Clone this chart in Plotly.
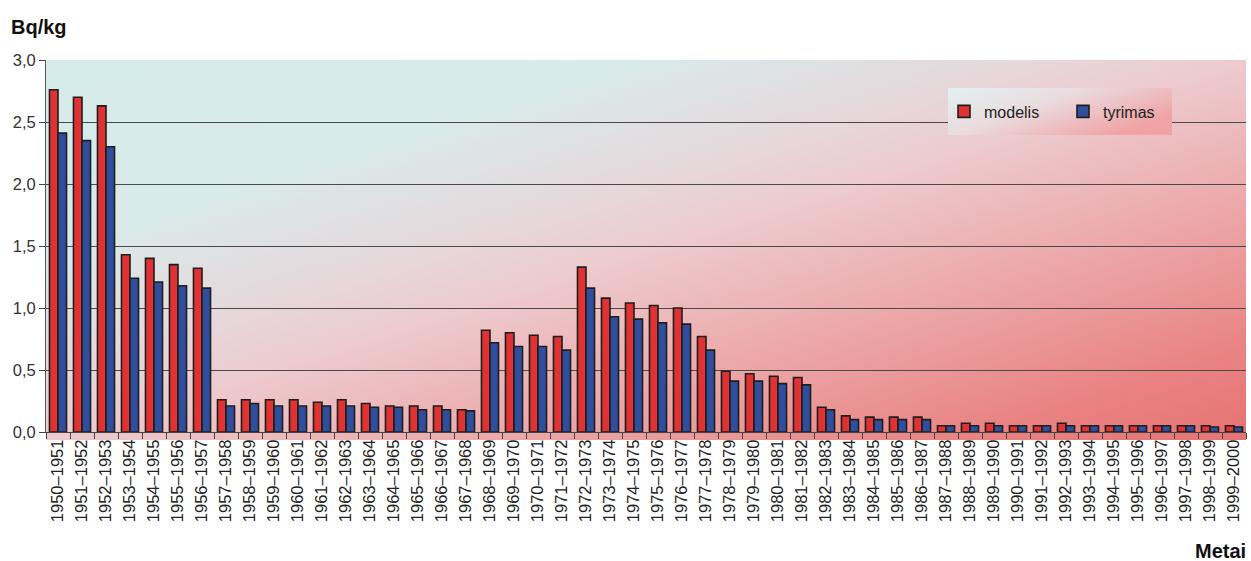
import plotly.graph_objects as go
import urllib.parse

periods = [f"{y}\u2013{y+1}" for y in range(1950, 2000)]

modelis = [2.76, 2.70, 2.63, 1.43, 1.40, 1.35, 1.32,
           0.26, 0.26, 0.26, 0.26, 0.24, 0.26, 0.23, 0.21, 0.21, 0.21, 0.18,
           0.82, 0.80, 0.78, 0.77, 1.33, 1.08, 1.04, 1.02, 1.00, 0.77,
           0.49, 0.47, 0.45, 0.44, 0.20, 0.13, 0.12, 0.12, 0.12,
           0.05, 0.07, 0.07, 0.05, 0.05, 0.07, 0.05, 0.05, 0.05, 0.05, 0.05, 0.05, 0.05]
tyrimas = [2.41, 2.35, 2.30, 1.24, 1.21, 1.18, 1.16,
           0.21, 0.23, 0.21, 0.21, 0.21, 0.21, 0.20, 0.20, 0.18, 0.18, 0.17,
           0.72, 0.69, 0.69, 0.66, 1.16, 0.93, 0.91, 0.88, 0.87, 0.66,
           0.41, 0.41, 0.39, 0.38, 0.18, 0.10, 0.10, 0.10, 0.10,
           0.05, 0.05, 0.05, 0.05, 0.05, 0.05, 0.05, 0.05, 0.05, 0.05, 0.05, 0.04, 0.04]

W, H = 1251, 561
L, R, T, B = 46, 5, 60, 129


def svg_uri(stops, x2="1", y2="1"):
    st = "".join(f'<stop offset="{o}" stop-color="{c}"/>' for o, c in stops)
    svg = ('<svg xmlns="http://www.w3.org/2000/svg" width="100" height="100" '
           'viewBox="0 0 100 100" preserveAspectRatio="none">'
           f'<defs><linearGradient id="g" x1="0" y1="0" x2="{x2}" y2="{y2}">{st}</linearGradient></defs>'
           '<rect x="0" y="0" width="100" height="100" fill="url(#g)"/></svg>')
    return "data:image/svg+xml;charset=utf-8," + urllib.parse.quote(svg)


bg_uri = svg_uri([(0, "#d5ecea"), (0.25, "#d9eaea"), (0.42, "#e7d6da"),
                  (0.5, "#edcbce"), (0.68, "#eca9ab"), (0.88, "#e98382"), (1, "#e67373")])
leg_uri = svg_uri([(0, "#e2f1f1"), (0.45, "#eadcdf"), (1, "#f0a2a4")], x2="1", y2="0.6")

fig = go.Figure()
fig.add_trace(go.Bar(x=periods, y=modelis, name="modelis",
                     marker=dict(color="#e03232", line=dict(color="#1e1e1e", width=1.6))))
fig.add_trace(go.Bar(x=periods, y=tyrimas, name="tyrimas",
                     marker=dict(color="#2f4f9e", line=dict(color="#1e1e1e", width=1.6))))

pw = W - L - R
ph = H - T - B


def px_x(p):
    return (p - L) / pw


def px_y(p):
    return (H - B - p) / ph


images = [
    dict(source=bg_uri, xref="paper", yref="paper", x=0, y=1, sizex=1, sizey=1 + 8 / ph,
         sizing="stretch", layer="below", xanchor="left", yanchor="top"),
    dict(source=leg_uri, xref="paper", yref="paper", x=px_x(948), y=px_y(88),
         sizex=224 / pw, sizey=47 / ph, sizing="stretch", layer="above",
         xanchor="left", yanchor="top", opacity=1),
]

fig.update_layout(
    width=W, height=H,
    margin=dict(l=L, r=R, t=T, b=B),
    paper_bgcolor="white",
    plot_bgcolor="rgba(0,0,0,0)",
    separators=",.",
    barmode="group",
    bargap=0.29,
    bargroupgap=0,
    font=dict(family="Liberation Sans, Arial, sans-serif", size=14, color="#222"),
    images=images,
    showlegend=True,
    legend=dict(orientation="h", x=px_x(944), y=px_y(111.5), xanchor="left", yanchor="middle",
                bgcolor="rgba(0,0,0,0)", borderwidth=0, entrywidth=74, entrywidthmode="pixels",
                font=dict(size=16, color="#222"), itemclick=False),
    xaxis=dict(type="category", tickangle=-90, ticks="outside", tickson="boundaries",
               ticklen=6, tickcolor="#444", showline=True, linecolor="#444", linewidth=1,
               showgrid=False, tickfont=dict(size=16.5, color="#222"),
               range=[-0.5, len(periods) - 0.5]),
    yaxis=dict(range=[0, 3.0], tick0=0, dtick=0.5, tickformat=".1f", ticks="outside",
               ticklen=6, tickcolor="#444", showline=True, linecolor="#555", linewidth=1,
               showgrid=True, gridcolor="#4a4a4a", gridwidth=1, zeroline=False,
               tickfont=dict(size=16.5, color="#333")),
    annotations=[
        dict(text="<b>Bq/kg</b>", xref="paper", yref="paper", x=px_x(9), y=px_y(27),
             xanchor="left", yanchor="middle", showarrow=False,
             font=dict(size=20, color="#111")),
        dict(text="<b>Metai</b>", xref="paper", yref="paper", x=px_x(1248), y=px_y(551),
             xanchor="right", yanchor="middle", showarrow=False,
             font=dict(size=20, color="#111")),
    ],
)

fig.write_html("out.html")
